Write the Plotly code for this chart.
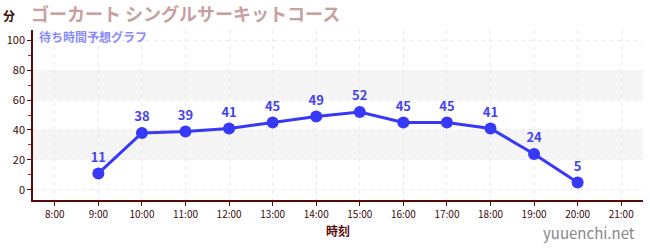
import plotly.graph_objects as go

hours = [9, 10, 11, 12, 13, 14, 15, 16, 17, 18, 19, 20]
waits = [11, 38, 39, 41, 45, 49, 52, 45, 45, 41, 24, 5]
tick_hours = list(range(8, 22))
tick_labels = [f"{h}:00" for h in tick_hours]
y_ticks = [0, 20, 40, 60, 80, 100]

FONT = "Noto Sans CJK JP"
AX = "#5a0a0a"

fig = go.Figure()
fig.add_trace(go.Scatter(
    x=hours, y=waits, mode="lines+markers+text",
    line=dict(color="#3838f8", width=3),
    marker=dict(color="#3838f8", size=12),
    text=[str(v) for v in waits], textposition="top center",
    textfont=dict(family=FONT, size=13, color="#4444ee", weight="bold"),
    hoverinfo="skip", cliponaxis=False,
))

for lo, hi in [(20, 40), (60, 80)]:
    fig.add_shape(type="rect", xref="paper", yref="y", x0=0, x1=1, y0=lo, y1=hi,
                  fillcolor="#f5f5f5", line_width=0, layer="below")

fig.update_layout(
    width=650, height=250,
    margin=dict(l=31, r=7, t=30, b=50),
    paper_bgcolor="white", plot_bgcolor="white",
    showlegend=False,
    font=dict(family=FONT, color=AX),
    xaxis=dict(
        range=[7.5, 21.5], tickvals=tick_hours, ticktext=tick_labels,
        tickfont=dict(size=10, color="#3a0a0a"), ticks="outside", ticklen=4, tickcolor=AX,
        showline=True, linecolor=AX, linewidth=1.5,
        showgrid=True, gridcolor="#ebebeb", griddash="4px,4px", gridwidth=1,
        zeroline=False,
        title=dict(text="時刻", font=dict(size=12, color=AX, weight="bold"), standoff=8),
    ),
    yaxis=dict(
        range=[-6.7, 106.7], tickvals=y_ticks,
        tickfont=dict(size=11, color="#3a0a0a"), ticks="outside", ticklen=4, tickcolor=AX,
        showline=True, linecolor=AX, linewidth=1.5,
        showgrid=True, gridcolor="#ebebeb", griddash="4px,4px", gridwidth=1,
        zeroline=False,
        minor=dict(dtick=10, tick0=0, ticks="outside", ticklen=3, tickcolor="#cc2222", showgrid=False),
    ),
)

fig.add_annotation(text="分", xref="paper", yref="paper", x=-0.04, y=1.0, xanchor="center", yanchor="bottom",
                   yshift=4, showarrow=False, font=dict(family=FONT, size=12, color="#3a0a0a", weight="bold"))
fig.add_annotation(text="ゴーカート シングルサーキットコース", xref="paper", yref="paper", x=-0.005, y=1.0,
                   xanchor="left", yanchor="bottom", yshift=3, showarrow=False,
                   font=dict(family=FONT, size=18, color="#c9a0a0", weight="bold"), borderpad=0)
fig.add_annotation(text="待ち時間予想グラフ", xref="paper", yref="paper", x=0.009, y=1.0,
                   xanchor="left", yanchor="top", yshift=3, showarrow=False,
                   font=dict(family=FONT, size=12, color="#8a8aff", weight="bold"), borderpad=0)
fig.add_annotation(text="yuuenchi.net", xref="paper", yref="paper", x=0.99, y=-0.19,
                   xanchor="right", yanchor="middle", showarrow=False,
                   font=dict(family=FONT, size=15, color="#888888"))

fig.write_html("out.html")
